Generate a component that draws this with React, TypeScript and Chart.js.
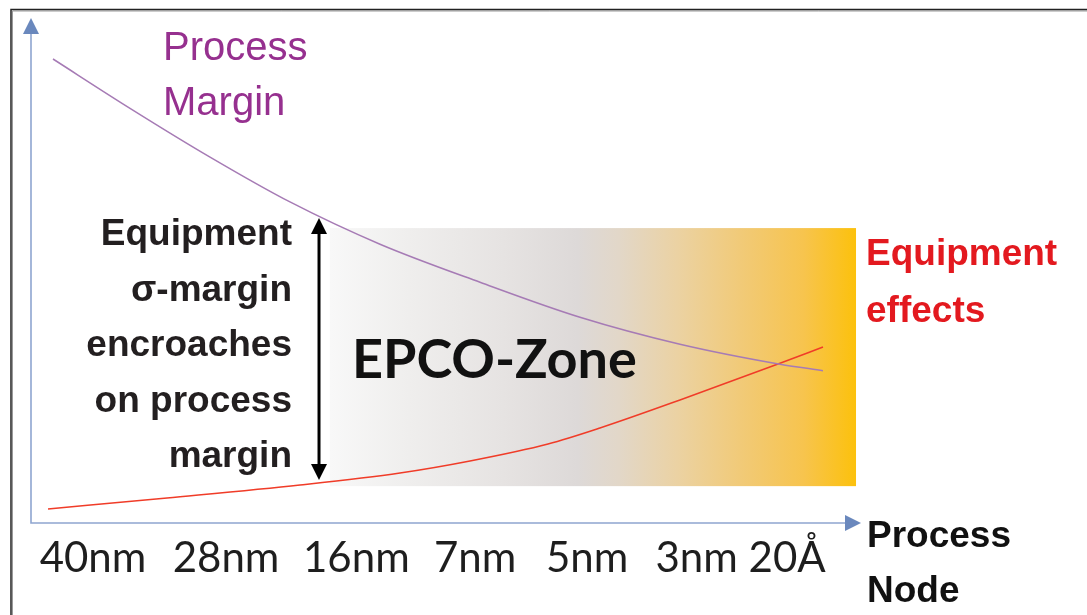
import React, { useEffect, useRef } from "react";
import { Chart, registerables } from "chart.js";

Chart.register(...registerables);

// ---- data ----
const nodeLabels = ["40nm", "28nm", "16nm", "7nm", "5nm", "3nm", "20Å"];
const nodePositions = [7.47, 23.5, 39.2, 53.5, 67.0, 80.2, 91.1];

const marginX = [2.65, 11.93, 21.57, 31.2, 42.05, 54.1, 66.14, 78.19, 90.24, 95.42];
const marginY = [91.88, 82.12, 72.46, 63.58, 55.21, 47.68, 40.75, 35.41, 31.45, 30.16];

const effectsX = [2.05, 16.39, 32.41, 44.46, 52.89, 62.29, 68.55, 78.19, 90.0, 95.42];
const effectsY = [2.77, 4.95, 7.52, 9.9, 12.28, 15.64, 18.81, 24.36, 31.49, 34.85];

const zoneX = [36.0, 99.4];
const zoneY = [7.3, 58.4];
const sigmaArrowX = 34.7;
const sigmaArrowY = [8.5, 60.4];

const leftNote = ["Equipment", "σ-margin", "encroaches", "on process", "margin"];
const marginTitle = ["Process", "Margin"];
const effectsTitle = ["Equipment", "effects"];
const axisTitle = ["Process", "Node"];
const zoneTitle = "EPCO-Zone";

const toPoints = (xs: number[], ys: number[]) => xs.map((x, i) => ({ x, y: ys[i] }));

const ARIAL = "'Liberation Sans', Arial, sans-serif";
const CALIBRI = "Lato, 'Open Sans', sans-serif";

const decorPlugin = {
  id: "decor",
  beforeDatasetsDraw(chart: any) {
    const { ctx, chartArea, scales } = chart;
    const xs = scales.x;
    const ys = scales.y;
    ctx.save();
    // frame
    ctx.strokeStyle = "#9a9a9a";
    ctx.lineWidth = 1;
    ctx.beginPath();
    ctx.moveTo(12.5, 615);
    ctx.lineTo(12.5, 11);
    ctx.lineTo(1087, 11);
    ctx.stroke();
    ctx.strokeStyle = "#222";
    ctx.lineWidth = 1.5;
    ctx.beginPath();
    ctx.moveTo(11, 615);
    ctx.lineTo(11, 9.5);
    ctx.lineTo(1087, 9.5);
    ctx.stroke();

    // EPCO zone box
    const bx0 = xs.getPixelForValue(zoneX[0]);
    const bx1 = xs.getPixelForValue(zoneX[1]);
    const by0 = ys.getPixelForValue(zoneY[1]);
    const by1 = ys.getPixelForValue(zoneY[0]);
    const g = ctx.createLinearGradient(bx0, 0, bx1, 0);
    g.addColorStop(0, "#f8f8f8");
    g.addColorStop(0.15, "#efeeed");
    g.addColorStop(0.33, "#e6e3e2");
    g.addColorStop(0.47, "#ddd9d8");
    g.addColorStop(0.55, "#e2d7c8");
    g.addColorStop(0.66, "#ebd2a3");
    g.addColorStop(0.78, "#f1ca78");
    g.addColorStop(0.9, "#f7c44e");
    g.addColorStop(1, "#fcc10c");
    ctx.fillStyle = g;
    ctx.fillRect(bx0, by0, bx1 - bx0, by1 - by0);

    // axes
    const L = chartArea.left;
    const B = chartArea.bottom;
    const T = chartArea.top;
    const R = chartArea.right;
    ctx.strokeStyle = "#8ea5d0";
    ctx.lineWidth = 1.6;
    ctx.beginPath();
    ctx.moveTo(L, T + 12);
    ctx.lineTo(L, B);
    ctx.lineTo(R - 12, B);
    ctx.stroke();
    ctx.fillStyle = "#6a88bd";
    ctx.beginPath();
    ctx.moveTo(L, T);
    ctx.lineTo(L - 8, T + 16);
    ctx.lineTo(L + 8, T + 16);
    ctx.closePath();
    ctx.fill();
    ctx.beginPath();
    ctx.moveTo(R, B);
    ctx.lineTo(R - 16, B - 8);
    ctx.lineTo(R - 16, B + 8);
    ctx.closePath();
    ctx.fill();

    // EPCO-Zone text
    ctx.fillStyle = "#111";
    ctx.font = `bold 54px ${CALIBRI}`;
    ctx.textAlign = "left";
    ctx.textBaseline = "alphabetic";
    ctx.fillText(zoneTitle, 352, 378);
    ctx.restore();
  },
  afterDatasetsDraw(chart: any) {
    const { ctx, scales } = chart;
    const xs = scales.x;
    const ys = scales.y;
    ctx.save();
    ctx.textBaseline = "alphabetic";

    // x tick labels
    ctx.fillStyle = "#1e1e1e";
    ctx.font = `42px ${CALIBRI}`;
    ctx.textAlign = "center";
    nodeLabels.forEach((lab, i) => {
      ctx.fillText(lab, xs.getPixelForValue(nodePositions[i]), 572);
    });

    // double arrow
    const ax = xs.getPixelForValue(sigmaArrowX);
    const ay0 = ys.getPixelForValue(sigmaArrowY[1]);
    const ay1 = ys.getPixelForValue(sigmaArrowY[0]);
    ctx.strokeStyle = "#000";
    ctx.fillStyle = "#000";
    ctx.lineWidth = 3;
    ctx.beginPath();
    ctx.moveTo(ax, ay0 + 12);
    ctx.lineTo(ax, ay1 - 12);
    ctx.stroke();
    ctx.beginPath();
    ctx.moveTo(ax, ay0);
    ctx.lineTo(ax - 8, ay0 + 16);
    ctx.lineTo(ax + 8, ay0 + 16);
    ctx.closePath();
    ctx.fill();
    ctx.beginPath();
    ctx.moveTo(ax, ay1);
    ctx.lineTo(ax - 8, ay1 - 16);
    ctx.lineTo(ax + 8, ay1 - 16);
    ctx.closePath();
    ctx.fill();

    // left note
    ctx.fillStyle = "#231f20";
    ctx.font = `bold 37px ${ARIAL}`;
    ctx.textAlign = "right";
    leftNote.forEach((t, i) => ctx.fillText(t, 292, 245 + i * 55.5));

    // process margin title
    ctx.fillStyle = "#96308f";
    ctx.font = `40px ${ARIAL}`;
    ctx.textAlign = "left";
    marginTitle.forEach((t, i) => ctx.fillText(t, 163, 60 + i * 55));

    // equipment effects title
    ctx.fillStyle = "#e3191f";
    ctx.font = `bold 37px ${ARIAL}`;
    effectsTitle.forEach((t, i) => ctx.fillText(t, 866, 265 + i * 57));

    // axis title
    ctx.fillStyle = "#111";
    axisTitle.forEach((t, i) => ctx.fillText(t, 867, 547 + i * 55));
    ctx.restore();
  },
};

export default function App() {
  const ref = useRef<HTMLCanvasElement | null>(null);
  useEffect(() => {
    document.body.style.margin = "0";
    document.body.style.background = "#fff";
    if (!ref.current) return;
    const chart = new Chart(ref.current, {
      type: "line",
      data: {
        datasets: [
          {
            label: "Process Margin",
            data: toPoints(marginX, marginY),
            borderColor: "#a67bb5",
            borderWidth: 1.5,
            pointRadius: 0,
            cubicInterpolationMode: "monotone",
            fill: false,
          },
          {
            label: "Equipment effects",
            data: toPoints(effectsX, effectsY),
            borderColor: "#f03c28",
            borderWidth: 1.5,
            pointRadius: 0,
            cubicInterpolationMode: "monotone",
            fill: false,
          },
        ],
      },
      options: {
        animation: false,
        responsive: false,
        maintainAspectRatio: false,
        layout: { padding: { left: 31, top: 18, right: 226, bottom: 92 } },
        scales: {
          x: { type: "linear", min: 0, max: 100, display: false },
          y: { type: "linear", min: 0, max: 100, display: false },
        },
        plugins: { legend: { display: false }, tooltip: { enabled: false } },
      },
      plugins: [decorPlugin],
    });
    return () => chart.destroy();
  }, []);
  return (
    <div style={{ width: 1087, height: 615, background: "#fff" }}>
      <canvas ref={ref} width={1087} height={615} style={{ display: "block", width: 1087, height: 615 }} />
    </div>
  );
}
